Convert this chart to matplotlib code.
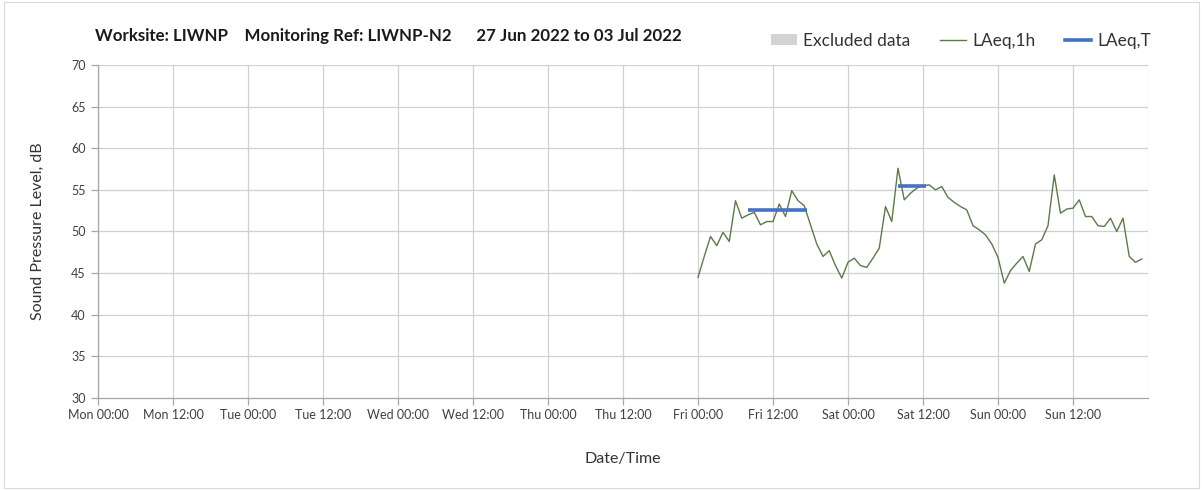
import matplotlib
matplotlib.use("Agg")
import matplotlib.pyplot as plt
import matplotlib.dates as mdates
from matplotlib.patches import Patch, Rectangle
from matplotlib.lines import Line2D
import pandas as pd

plt.rcParams['font.family'] = ['Lato', 'DejaVu Sans']

title_text = "Worksite: LIWNP    Monitoring Ref: LIWNP-N2      27 Jun 2022 to 03 Jul 2022"
start_time = "2022-07-01 00:00"
laeq_1h = [44.5, 47.0, 49.4, 48.3, 49.9, 48.8, 53.7, 51.6, 52.0, 52.3, 50.8, 51.2,
           51.2, 53.3, 51.8, 54.9, 53.7, 53.1, 50.8, 48.5, 47.0, 47.7, 45.9, 44.4,
           46.3, 46.8, 45.9, 45.7, 46.8, 48.0, 53.0, 51.2, 57.6, 53.8, 54.6, 55.2,
           55.5, 55.6, 55.0, 55.4, 54.1, 53.5, 53.0, 52.6, 50.7, 50.2, 49.6, 48.5,
           46.9, 43.8, 45.3, 46.2, 47.0, 45.2, 48.5, 49.0, 50.7, 56.8, 52.2, 52.7,
           52.8, 53.8, 51.8, 51.8, 50.7, 50.6, 51.6, 50.0, 51.6, 47.0, 46.3, 46.7]
laeq_t_periods = [("2022-07-01 08:00", "2022-07-01 17:30", 52.6),
                  ("2022-07-02 08:00", "2022-07-02 12:30", 55.5)]
tick_labels = ["Mon 00:00", "Mon 12:00", "Tue 00:00", "Tue 12:00", "Wed 00:00",
               "Wed 12:00", "Thu 00:00", "Thu 12:00", "Fri 00:00", "Fri 12:00",
               "Sat 00:00", "Sat 12:00", "Sun 00:00", "Sun 12:00"]
x_start = "2022-06-27 00:00"
x_end = "2022-07-04 00:00"

times = pd.date_range(start_time, periods=len(laeq_1h), freq="h")
ticks = pd.date_range(x_start, periods=len(tick_labels), freq="12h")

fig = plt.figure(figsize=(12.03, 4.90), dpi=100)
fig.patch.set_facecolor("white")
fig.add_artist(Rectangle((0.003, 0.004), 0.994, 0.992, transform=fig.transFigure,
                         fill=False, edgecolor="#d9d9d9", linewidth=0.8))

W, H = 1203, 490
ax = fig.add_axes([98 / W, 1 - 398 / H, (1148 - 98) / W, (398 - 65) / H])

green = "#5b7a48"
blue = "#4472c4"
grid_c = "#d0d0d0"

ax.plot(times, laeq_1h, color=green, linewidth=1.0, zorder=3)
for s, e, v in laeq_t_periods:
    ax.plot([pd.Timestamp(s), pd.Timestamp(e)], [v, v], color=blue, linewidth=2.6,
            solid_capstyle="butt", zorder=4)

ax.set_xlim(pd.Timestamp(x_start), pd.Timestamp(x_end))
ax.set_ylim(30, 70)
ax.set_yticks(range(30, 71, 5))
ax.set_xticks(ticks)
ax.set_xticklabels(tick_labels)
all_grid = pd.date_range(x_start, x_end, freq="12h")
for t in all_grid:
    ax.axvline(t, color=grid_c, linewidth=0.9, zorder=1)
for yv in range(35, 71, 5):
    ax.axhline(yv, color=grid_c, linewidth=0.9, zorder=1)

for side in ["top", "right"]:
    ax.spines[side].set_visible(False)
for side in ["left", "bottom"]:
    ax.spines[side].set_color("#a6a6a6")
    ax.spines[side].set_linewidth(0.9)
ax.tick_params(axis="both", colors="#a6a6a6", labelcolor="#404040", labelsize=9,
               length=5, width=0.9, direction="out")
ax.tick_params(axis="y", pad=4)
ax.tick_params(axis="x", pad=3)

ax.set_ylabel("Sound Pressure Level, dB", fontsize=11.5, color="#333333", labelpad=19)
ax.set_xlabel("Date/Time", fontsize=11.5, color="#333333", labelpad=22)

fig.text(95 / W, 1 - 36 / H, title_text, fontsize=12.2, fontweight="bold",
         color="#1a1a1a", va="center", ha="left")

handles = [Patch(facecolor="#d3d3d3", edgecolor="none"),
           Line2D([0], [0], color=green, linewidth=1.0),
           Line2D([0], [0], color=blue, linewidth=2.6)]
labels = ["Excluded data", "LAeq,1h", "LAeq,T"]
leg = fig.legend(handles, labels, loc="center right", bbox_to_anchor=(1163 / W, 1 - 41 / H),
                 ncol=3, frameon=False, fontsize=12.5, handlelength=1.5, handletextpad=0.35,
                 columnspacing=1.7, handleheight=0.6, borderpad=0.2)
for t in leg.get_texts():
    t.set_color("#333333")

fig.savefig("out.png", dpi=100)
